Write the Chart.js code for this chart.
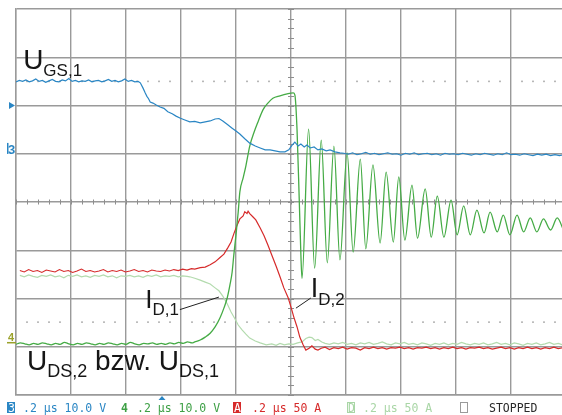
<!DOCTYPE html>
<html><head><meta charset="utf-8">
<script src="https://cdn.jsdelivr.net/npm/chart.js@4.4.1/dist/chart.umd.min.js"></script>
<style>
html,body{margin:0;padding:0;background:#fff;overflow:hidden;width:562px;height:415px}
#wrap{position:relative;width:572px;height:415px}
</style></head>
<body><div id="wrap"><canvas id="c" width="572" height="415"></canvas></div>
<script>
// Screen units: x in divisions (0..10, 0.2 µs/div), y in divisions (0..8)
const xDivisions = [0,10];
const yDivisions = [0,8];
const refLevels = [6.5, 1.51];

// U_GS,1 (channel 3, blue)
const uGS1 = [[0.00,6.49],[0.06,6.52],[0.12,6.50],[0.18,6.53],[0.24,6.49],[0.30,6.51],[0.36,6.55],[0.42,6.50],[0.48,6.52],[0.54,6.48],[0.60,6.51],[0.66,6.54],[0.72,6.50],[0.78,6.49],[0.84,6.53],[0.90,6.51],[0.96,6.56],[1.02,6.50],[1.08,6.52],[1.14,6.49],[1.20,6.51],[1.26,6.50],[1.32,6.53],[1.38,6.49],[1.44,6.51],[1.50,6.52],[1.56,6.49],[1.62,6.51],[1.68,6.54],[1.74,6.50],[1.80,6.52],[1.86,6.49],[1.92,6.51],[1.98,6.55],[2.04,6.50],[2.10,6.52],[2.16,6.49],[2.22,6.50],
[2.26,6.47],[2.31,6.36],[2.35,6.26],[2.38,6.19],[2.41,6.14],[2.44,6.07],[2.49,6.05],[2.55,6.01],[2.62,5.97],[2.69,5.94],[2.76,5.87],[2.84,5.83],[2.91,5.78],[2.98,5.74],[3.07,5.70],[3.16,5.66],[3.25,5.67],[3.35,5.64],[3.44,5.66],[3.53,5.68],[3.62,5.72],[3.69,5.73],[3.76,5.68],[3.85,5.60],[3.93,5.53],[4.00,5.47],[4.07,5.41],[4.16,5.31],[4.25,5.22],[4.35,5.16],[4.44,5.12],[4.53,5.08],[4.62,5.08],[4.71,5.06],[4.80,5.04],[4.89,5.04],[4.96,5.08],[5.02,5.18],[5.07,5.24],[5.13,5.16],[5.18,5.20],[5.24,5.14],[5.29,5.18],[5.35,5.12],[5.42,5.14],[5.49,5.08],[5.56,5.10],[5.64,5.06],[5.71,5.08],[5.80,5.04],[5.89,5.02],
[5.96,5.01],[6.04,4.99],[6.12,5.02],[6.20,4.98],[6.28,5.00],[6.36,5.03],[6.44,4.99],[6.52,5.01],[6.60,4.98],[6.68,5.00],[6.76,5.02],[6.84,4.99],[6.92,5.00],[7.00,4.97],[7.08,5.01],[7.16,4.99],[7.24,5.02],[7.32,4.98],[7.40,5.00],[7.48,5.01],[7.56,4.98],[7.64,5.00],[7.72,4.97],[7.80,5.01],[7.88,4.99],[7.96,5.00],[8.04,4.98],[8.12,5.01],[8.20,4.99],[8.28,4.97],[8.36,5.00],[8.44,4.98],[8.52,5.01],[8.60,4.99],[8.68,4.97],[8.76,5.00],[8.84,4.98],[8.92,5.02],[9.00,4.98],[9.08,4.99],[9.16,4.97],[9.24,5.00],[9.32,4.98],[9.40,4.96],[9.48,4.99],[9.56,4.97],[9.64,4.99],[9.72,4.96],[9.80,4.98],[9.88,4.96],[9.96,4.98]];

// U_DS (channel 4, green)
const uDS = [[0.00,1.05],[0.08,1.08],[0.16,1.06],[0.24,1.04],[0.32,1.07],[0.40,1.05],[0.48,1.08],[0.56,1.06],[0.64,1.04],[0.72,1.07],[0.80,1.05],[0.88,1.09],[0.96,1.06],[1.04,1.04],[1.12,1.07],[1.20,1.05],[1.28,1.08],[1.36,1.06],[1.44,1.04],[1.52,1.07],[1.60,1.05],[1.68,1.08],[1.76,1.06],[1.84,1.04],[1.92,1.07],[2.00,1.05],[2.08,1.09],[2.16,1.06],[2.24,1.04],[2.32,1.07],[2.40,1.06],[2.48,1.08],[2.56,1.05],[2.64,1.07],[2.72,1.05],[2.80,1.08],[2.88,1.06],[2.96,1.09],[3.04,1.07],[3.12,1.10],[3.20,1.08],
[3.25,1.10],[3.35,1.14],[3.44,1.20],[3.53,1.28],[3.62,1.41],[3.71,1.60],[3.78,1.80],[3.84,2.01],[3.89,2.28],[3.93,2.55],[3.96,2.90],[4.00,3.32],[4.04,3.79],[4.07,4.21],[4.13,4.50],[4.18,4.75],[4.25,5.16],[4.33,5.45],[4.40,5.66],[4.49,5.91],[4.58,6.05],[4.67,6.15],[4.80,6.20],[4.93,6.24],[5.04,6.26],[5.07,6.22],[5.11,5.49],[5.15,4.04],[5.18,2.90],[5.20,2.42],
[5.32,5.51],[5.43,2.63],[5.55,5.28],[5.66,2.74],[5.78,5.16],[5.89,2.80],[6.02,5.02],[6.13,2.96],[6.26,4.89],[6.36,3.03],[6.49,4.77],[6.62,3.15],[6.73,4.62],[6.86,3.17],[6.96,4.52],[7.07,3.21],[7.20,4.35],[7.30,3.25],[7.44,4.27],[7.55,3.27],[7.66,4.12],[7.78,3.27],[7.91,4.04],[8.02,3.32],[8.14,3.92],[8.26,3.32],[8.38,3.83],[8.51,3.36],[8.62,3.79],[8.75,3.38],[8.86,3.73],[8.98,3.32],[9.11,3.73],[9.23,3.38],[9.35,3.67],[9.47,3.38],[9.59,3.65],[9.72,3.42],[9.84,3.67],[9.96,3.40]];

// I_D,2 (channel A, red)
const iD2 = [[0.07,2.58],[0.15,2.55],[0.23,2.60],[0.31,2.56],[0.39,2.58],[0.47,2.54],[0.55,2.59],[0.63,2.57],[0.71,2.55],[0.79,2.60],[0.87,2.56],[0.95,2.58],[1.03,2.54],[1.11,2.57],[1.19,2.61],[1.27,2.56],[1.35,2.58],[1.43,2.55],[1.51,2.57],[1.59,2.60],[1.67,2.55],[1.75,2.58],[1.83,2.56],[1.91,2.59],[1.99,2.55],[2.07,2.57],[2.15,2.60],[2.23,2.56],[2.31,2.58],[2.39,2.55],[2.47,2.59],[2.55,2.57],[2.63,2.56],[2.71,2.59],[2.79,2.57],[2.87,2.60],[2.95,2.58],[3.03,2.61],[3.11,2.59],[3.19,2.62],
[3.25,2.61],[3.35,2.64],[3.44,2.65],[3.53,2.70],[3.62,2.76],[3.71,2.85],[3.78,2.92],[3.85,3.05],[3.91,3.17],[3.96,3.34],[4.02,3.52],[4.07,3.65],[4.13,3.71],[4.16,3.80],[4.20,3.76],[4.22,3.81],[4.25,3.76],[4.31,3.69],[4.36,3.63],[4.44,3.46],[4.51,3.30],[4.58,3.11],[4.65,2.90],[4.73,2.67],[4.80,2.45],[4.87,2.22],[4.95,2.01],[5.00,1.82],[5.05,1.62],[5.11,1.41],[5.16,1.20],[5.22,1.04],[5.27,0.93],[5.33,0.97],[5.38,1.02],[5.44,0.95],[5.49,0.93],[5.55,0.97],
[5.62,0.99],[5.70,0.94],[5.78,0.98],[5.86,0.96],[5.94,0.99],[6.02,0.95],[6.10,0.98],[6.18,0.97],[6.26,0.93],[6.34,0.98],[6.42,0.96],[6.50,0.99],[6.58,0.96],[6.66,0.98],[6.74,0.95],[6.82,0.98],[6.90,0.97],[6.98,0.99],[7.06,0.96],[7.14,0.98],[7.22,0.95],[7.30,0.98],[7.38,0.97],[7.46,0.99],[7.54,0.96],[7.62,0.98],[7.70,0.95],[7.78,0.98],[7.86,0.96],[7.94,0.99],[8.02,0.96],[8.10,0.98],[8.18,0.95],[8.26,0.98],[8.34,0.97],[8.42,0.99],[8.50,0.96],[8.58,0.98],[8.66,0.95],[8.74,0.97],[8.82,0.99],[8.90,0.96],[8.98,0.98],[9.06,0.95],[9.14,0.98],[9.22,0.96],[9.30,0.99],[9.38,0.96],[9.46,0.98],[9.54,0.95],[9.62,0.98],[9.70,0.96],[9.78,0.99],[9.86,0.96],[9.94,0.98]];

// I_D,1 (reference trace D, light green)
const iD1 = [[0.07,2.48],[0.15,2.45],[0.23,2.49],[0.31,2.46],[0.39,2.44],[0.47,2.48],[0.55,2.46],[0.63,2.49],[0.71,2.45],[0.79,2.47],[0.87,2.43],[0.95,2.48],[1.03,2.46],[1.11,2.49],[1.19,2.45],[1.27,2.47],[1.35,2.44],[1.43,2.48],[1.51,2.46],[1.59,2.49],[1.67,2.45],[1.75,2.47],[1.83,2.43],[1.91,2.47],[1.99,2.46],[2.07,2.48],[2.15,2.45],[2.23,2.47],[2.31,2.44],[2.39,2.48],[2.47,2.46],[2.55,2.49],[2.63,2.45],[2.71,2.47],[2.79,2.46],[2.87,2.48],[2.95,2.45],[3.03,2.47],[3.11,2.46],
[3.16,2.45],[3.25,2.42],[3.35,2.38],[3.44,2.34],[3.53,2.30],[3.62,2.22],[3.69,2.16],[3.76,2.05],[3.84,1.89],[3.91,1.72],[3.98,1.58],[4.04,1.45],[4.11,1.35],[4.18,1.26],[4.25,1.18],[4.35,1.12],[4.44,1.08],[4.55,1.04],[4.65,1.06],[4.73,1.03],[4.80,1.07],[4.88,1.04],[4.96,1.06],[5.04,1.05],[5.12,1.08],[5.20,1.10],[5.27,1.17],[5.33,1.20],[5.38,1.19],[5.44,1.13],[5.49,1.15],[5.56,1.10],[5.62,1.07],
[5.70,1.05],[5.78,1.08],[5.86,1.06],[5.94,1.09],[6.02,1.05],[6.10,1.07],[6.18,1.04],[6.26,1.08],[6.34,1.06],[6.42,1.09],[6.50,1.05],[6.58,1.07],[6.66,1.10],[6.74,1.06],[6.82,1.04],[6.90,1.08],[6.98,1.06],[7.06,1.09],[7.14,1.05],[7.22,1.07],[7.30,1.04],[7.38,1.08],[7.46,1.06],[7.54,1.03],[7.62,1.07],[7.70,1.05],[7.78,1.08],[7.86,1.04],[7.94,1.07],[8.02,1.05],[8.10,1.09],[8.18,1.06],[8.26,1.04],[8.34,1.07],[8.42,1.05],[8.50,1.08],[8.58,1.04],[8.66,1.06],[8.74,1.09],[8.82,1.05],[8.90,1.07],[8.98,1.04],[9.06,1.08],[9.14,1.06],[9.22,1.03],[9.30,1.07],[9.38,1.05],[9.46,1.08],[9.54,1.04],[9.62,1.06],[9.70,1.09],[9.78,1.05],[9.86,1.07],[9.94,1.04]];

// Text annotations (anchor in divisions)
const labels = [
  {parts:[{t:'U',s:28},{t:'GS,1',s:17,sub:7}], x:0.13, y:6.76},
  {parts:[{t:'U',s:28},{t:'DS,2',s:18,sub:7},{t:' bzw. ',s:28},{t:'U',s:28},{t:'DS,1',s:18,sub:7}], x:0.20, y:0.52},
  {parts:[{t:'I',s:26},{t:'D,1',s:17,sub:7}], x:2.35, y:1.80},
  {parts:[{t:'I',s:27},{t:'D,2',s:17,sub:8}], x:5.36, y:2.03}
];
const leaders = [
  {from:[2.98,1.77], to:[3.69,2.03]},
  {from:[5.36,2.01], to:[5.09,1.80]}
];
const statusItems = [
  {t:'3', x:8, box:'fill', color:'#2a86c4'},
  {t:'.2 µs 10.0 V', x:23, color:'#2a86c4'},
  {t:'4', x:121, bold:true, color:'#3ea046'},
  {t:'.2 µs 10.0 V', x:137, color:'#3ea046'},
  {t:'A', x:234, box:'fill', color:'#d62a2a'},
  {t:'.2 µs 50 A', x:252, color:'#d62a2a'},
  {t:'D', x:348, box:'stroke', color:'#a9d6a6'},
  {t:'.2 µs 50 A', x:363, color:'#a9d6a6'},
  {t:'', x:461, box:'stroke', color:'#9a9a9a'},
  {t:'STOPPED', x:489, color:'#2a2a2a'}
];

const SANS = '"Liberation Sans", Arial, sans-serif';
const MONO = '"DejaVu Sans Mono", monospace';

const decor = {
  id:'decor',
  beforeDatasetsDraw(chart){
    const {ctx, scales:{x,y}} = chart;
    ctx.save();
    ctx.fillStyle = '#a6a6a6';
    refLevels.forEach(lv=>{
      const py = y.getPixelForValue(lv);
      for(let i=0;i<=50;i++){
        if(i%5===0) continue;
        const px = x.getPixelForValue(i*0.2);
        ctx.fillRect(px-0.8, py-0.8, 1.6, 1.6);
      }
    });
    ctx.strokeStyle = '#8e8e8e'; ctx.lineWidth = 1;
    const cy = y.getPixelForValue(4), cx = x.getPixelForValue(5);
    for(let i=0;i<=50;i++){
      const px = Math.round(x.getPixelForValue(i*0.2))+0.5;
      ctx.beginPath(); ctx.moveTo(px, cy-2.5); ctx.lineTo(px, cy+2.5); ctx.stroke();
    }
    for(let j=0;j<=40;j++){
      const py = Math.round(y.getPixelForValue(j*0.2))+0.5;
      ctx.beginPath(); ctx.moveTo(cx-3, py); ctx.lineTo(cx+3, py); ctx.stroke();
    }
    ctx.restore();
  },
  afterDraw(chart){
    const {ctx, scales:{x,y}} = chart;
    ctx.save();
    ctx.fillStyle = '#161616';
    ctx.textBaseline = 'alphabetic';
    labels.forEach(l=>{
      let px = x.getPixelForValue(l.x);
      const py = y.getPixelForValue(l.y);
      l.parts.forEach(p=>{
        ctx.font = p.s + 'px ' + SANS;
        ctx.fillText(p.t, px, py + (p.sub||0));
        px += ctx.measureText(p.t).width;
      });
    });
    ctx.strokeStyle = '#222'; ctx.lineWidth = 1;
    leaders.forEach(d=>{
      ctx.beginPath();
      ctx.moveTo(x.getPixelForValue(d.from[0]), y.getPixelForValue(d.from[1]));
      ctx.lineTo(x.getPixelForValue(d.to[0]), y.getPixelForValue(d.to[1]));
      ctx.stroke();
    });
    ctx.fillStyle = '#2a86c4';
    const ty = y.getPixelForValue(6);
    ctx.beginPath(); ctx.moveTo(9, ty-3.5); ctx.lineTo(15, ty); ctx.lineTo(9, ty+3.5); ctx.closePath(); ctx.fill();
    ctx.font = 'bold 13px ' + SANS;
    ctx.fillText('3', 8, y.getPixelForValue(5.1)+5);
    ctx.fillRect(7, y.getPixelForValue(5.1)-6, 1.5, 11);
    ctx.fillStyle = '#9aa12a';
    ctx.font = 'bold 11px ' + SANS;
    ctx.fillText('4', 8, y.getPixelForValue(1.12));
    ctx.fillRect(7, y.getPixelForValue(1.12)+1, 9, 1.5);
    ctx.fillStyle = '#2a86c4';
    const bx = 162, by = chart.chartArea.bottom + 1;
    ctx.beginPath(); ctx.moveTo(bx-3.5, by+4); ctx.lineTo(bx, by); ctx.lineTo(bx+3.5, by+4); ctx.closePath(); ctx.fill();
    const base = 412;
    statusItems.forEach(it=>{
      ctx.font = (it.bold?'bold ':'') + '11.5px ' + MONO;
      if(it.box==='fill'){
        ctx.fillStyle = it.color;
        ctx.fillRect(it.x-1, base-10, 8, 11);
        ctx.fillStyle = '#fff';
        ctx.fillText(it.t, it.x, base);
      } else if(it.box==='stroke'){
        ctx.strokeStyle = it.color; ctx.lineWidth = 1;
        ctx.strokeRect(it.x-0.5, base-9.5, 7, 10);
        ctx.fillStyle = it.color;
        if(it.t) ctx.fillText(it.t, it.x, base);
      } else {
        ctx.fillStyle = it.color;
        ctx.fillText(it.t, it.x, base);
      }
    });
    ctx.restore();
  }
};

const toXY = a => a.map(p=>({x:p[0], y:p[1]}));
const gridColor = '#9a9a9a';

new Chart(document.getElementById('c'), {
  type:'line',
  data:{datasets:[
    {label:'U_GS,1', data:toXY(uGS1), borderColor:'#2a86c4', borderWidth:1.2, pointRadius:0, order:0},
    {label:'U_DS', data:toXY(uDS), borderColor:'#45ab45', borderWidth:1.3, pointRadius:0, cubicInterpolationMode:'monotone', order:1},
    {label:'I_D,2', data:toXY(iD2), borderColor:'#d62a2a', borderWidth:1.2, pointRadius:0, order:2},
    {label:'I_D,1', data:toXY(iD1), borderColor:'#b3dbae', borderWidth:1.2, pointRadius:0, order:3}
  ]},
  options:{
    responsive:false, animation:false, devicePixelRatio:1,
    layout:{padding:{left:16, right:6, top:9, bottom:20}},
    plugins:{legend:{display:false}, tooltip:{enabled:false}},
    elements:{line:{tension:0}},
    scales:{
      x:{type:'linear', min:xDivisions[0], max:xDivisions[1],
         ticks:{display:false, stepSize:1},
         grid:{color:gridColor, lineWidth:1.4, drawTicks:false},
         border:{display:true, color:gridColor, width:1.4}},
      y:{type:'linear', min:yDivisions[0], max:yDivisions[1],
         ticks:{display:false, stepSize:1},
         grid:{color:gridColor, lineWidth:1.4, drawTicks:false},
         border:{display:true, color:gridColor, width:1.4}}
    }
  },
  plugins:[decor]
});
</script>
</body></html>
